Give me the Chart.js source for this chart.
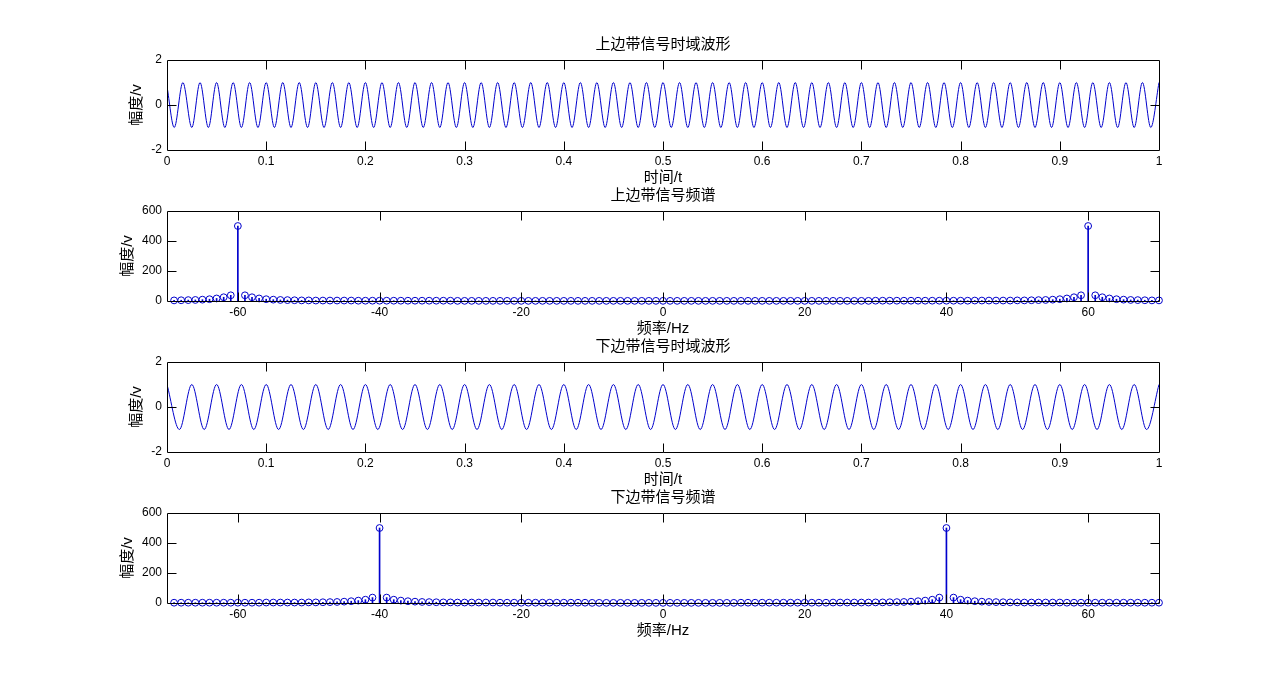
<!DOCTYPE html>
<html><head><meta charset="utf-8">
<script src="https://cdn.jsdelivr.net/npm/chart.js@4.4.1/dist/chart.umd.min.js"></script>
<style>
html,body{margin:0;padding:0;background:#fff;width:1281px;height:690px;overflow:hidden;}
canvas{position:absolute;left:0;}
</style></head><body>
<canvas id="c1" width="1281" height="160" style="top:30px"></canvas>
<canvas id="c2" width="1281" height="160" style="top:181px"></canvas>
<canvas id="c3" width="1281" height="160" style="top:332px"></canvas>
<canvas id="c4" width="1281" height="160" style="top:483px"></canvas>
<script>
// ---------- text ----------
const titles = ['上边带信号时域波形', '上边带信号频谱', '下边带信号时域波形', '下边带信号频谱'];
const xTitles = ['时间/t', '频率/Hz', '时间/t', '频率/Hz'];
const yTitle = '幅度/v';

// ---------- tick labels ----------
const timeTicks = [0, 0.1, 0.2, 0.3, 0.4, 0.5, 0.6, 0.7, 0.8, 0.9, 1];
const freqTicks = [-60, -40, -20, 0, 20, 40, 60];
const waveYTicks = [-2, 0, 2];
const specYTicks = [0, 200, 400, 600];

// ---------- upper sideband waveform (extrema) ----------
const usbTime = [
  0, 0.0073, 0.016, 0.025, 0.0333, 0.0417, 0.05, 0.0583, 0.0667, 0.075, 0.0833, 0.0917,
  0.1, 0.1083, 0.1167, 0.125, 0.1333, 0.1417, 0.15, 0.1583, 0.1667, 0.175, 0.1833, 0.1917,
  0.2, 0.2083, 0.2167, 0.225, 0.2333, 0.2417, 0.25, 0.2583, 0.2667, 0.275, 0.2833, 0.2917,
  0.3, 0.3083, 0.3167, 0.325, 0.3333, 0.3417, 0.35, 0.3583, 0.3667, 0.375, 0.3833, 0.3917,
  0.4, 0.4083, 0.4167, 0.425, 0.4333, 0.4417, 0.45, 0.4583, 0.4667, 0.475, 0.4833, 0.4917,
  0.5, 0.5083, 0.5167, 0.525, 0.5333, 0.5417, 0.55, 0.5583, 0.5667, 0.575, 0.5833, 0.5917,
  0.6, 0.6083, 0.6167, 0.625, 0.6333, 0.6417, 0.65, 0.6583, 0.6667, 0.675, 0.6833, 0.6917,
  0.7, 0.7083, 0.7167, 0.725, 0.7333, 0.7417, 0.75, 0.7583, 0.7667, 0.775, 0.7833, 0.7917,
  0.8, 0.8083, 0.8167, 0.825, 0.8333, 0.8417, 0.85, 0.8583, 0.8667, 0.875, 0.8833, 0.8917,
  0.9, 0.9083, 0.9167, 0.925, 0.9333, 0.9417, 0.95, 0.9583, 0.9667, 0.975, 0.9833, 0.9917,
  1
];
const usbWave = [
  0.83, -1, 1, -1, 1, -1, 1, -1, 1, -1, 1, -1,
  1, -1, 1, -1, 1, -1, 1, -1, 1, -1, 1, -1,
  1, -1, 1, -1, 1, -1, 1, -1, 1, -1, 1, -1,
  1, -1, 1, -1, 1, -1, 1, -1, 1, -1, 1, -1,
  1, -1, 1, -1, 1, -1, 1, -1, 1, -1, 1, -1,
  1, -1, 1, -1, 1, -1, 1, -1, 1, -1, 1, -1,
  1, -1, 1, -1, 1, -1, 1, -1, 1, -1, 1, -1,
  1, -1, 1, -1, 1, -1, 1, -1, 1, -1, 1, -1,
  1, -1, 1, -1, 1, -1, 1, -1, 1, -1, 1, -1,
  1, -1, 1, -1, 1, -1, 1, -1, 1, -1, 1, -1,
  1
];

// ---------- lower sideband waveform (extrema) ----------
const lsbTime = [
  0, 0.0125, 0.025, 0.0375, 0.05, 0.0625, 0.075, 0.0875,
  0.1, 0.1125, 0.125, 0.1375, 0.15, 0.1625, 0.175, 0.1875,
  0.2, 0.2125, 0.225, 0.2375, 0.25, 0.2625, 0.275, 0.2875,
  0.3, 0.3125, 0.325, 0.3375, 0.35, 0.3625, 0.375, 0.3875,
  0.4, 0.4125, 0.425, 0.4375, 0.45, 0.4625, 0.475, 0.4875,
  0.5, 0.5125, 0.525, 0.5375, 0.55, 0.5625, 0.575, 0.5875,
  0.6, 0.6125, 0.625, 0.6375, 0.65, 0.6625, 0.675, 0.6875,
  0.7, 0.7125, 0.725, 0.7375, 0.75, 0.7625, 0.775, 0.7875,
  0.8, 0.8125, 0.825, 0.8375, 0.85, 0.8625, 0.875, 0.8875,
  0.9, 0.9125, 0.925, 0.9375, 0.95, 0.9625, 0.975, 0.9875,
  1
];
const lsbWave = [
  1, -1, 1, -1, 1, -1, 1, -1,
  1, -1, 1, -1, 1, -1, 1, -1,
  1, -1, 1, -1, 1, -1, 1, -1,
  1, -1, 1, -1, 1, -1, 1, -1,
  1, -1, 1, -1, 1, -1, 1, -1,
  1, -1, 1, -1, 1, -1, 1, -1,
  1, -1, 1, -1, 1, -1, 1, -1,
  1, -1, 1, -1, 1, -1, 1, -1,
  1, -1, 1, -1, 1, -1, 1, -1,
  1, -1, 1, -1, 1, -1, 1, -1,
  1
];

// ---------- spectra ----------
const freq = [
  -69, -68, -67, -66, -65, -64, -63, -62, -61, -60,
  -59, -58, -57, -56, -55, -54, -53, -52, -51, -50,
  -49, -48, -47, -46, -45, -44, -43, -42, -41, -40,
  -39, -38, -37, -36, -35, -34, -33, -32, -31, -30,
  -29, -28, -27, -26, -25, -24, -23, -22, -21, -20,
  -19, -18, -17, -16, -15, -14, -13, -12, -11, -10,
  -9, -8, -7, -6, -5, -4, -3, -2, -1, 0,
  1, 2, 3, 4, 5, 6, 7, 8, 9, 10,
  11, 12, 13, 14, 15, 16, 17, 18, 19, 20,
  21, 22, 23, 24, 25, 26, 27, 28, 29, 30,
  31, 32, 33, 34, 35, 36, 37, 38, 39, 40,
  41, 42, 43, 44, 45, 46, 47, 48, 49, 50,
  51, 52, 53, 54, 55, 56, 57, 58, 59, 60,
  61, 62, 63, 64, 65, 66, 67, 68, 69, 70
];
const usbSpec = [
  4, 5, 6, 7, 9, 12, 17, 25, 38, 500,
  38, 25, 17, 12, 9, 7, 6, 5, 4, 4,
  3, 3, 3, 3, 3, 3, 2, 2, 2, 2,
  2, 2, 2, 2, 2, 2, 2, 2, 2, 2,
  1, 1, 1, 1, 1, 1, 1, 1, 1, 1,
  1, 1, 1, 1, 1, 1, 1, 1, 1, 1,
  1, 1, 1, 1, 1, 1, 1, 1, 1, 1,
  1, 1, 1, 1, 1, 1, 1, 1, 1, 1,
  1, 1, 1, 1, 1, 1, 1, 1, 1, 1,
  1, 1, 1, 1, 1, 1, 1, 1, 1, 2,
  2, 2, 2, 2, 2, 2, 2, 2, 2, 2,
  2, 2, 2, 3, 3, 3, 3, 3, 3, 4,
  4, 5, 6, 7, 9, 12, 17, 25, 38, 500,
  38, 25, 17, 12, 9, 7, 6, 5, 4, 4
];
const lsbSpec = [
  2, 2, 2, 2, 2, 2, 2, 2, 2, 2,
  2, 2, 2, 3, 3, 3, 3, 3, 3, 4,
  4, 5, 6, 7, 9, 12, 16, 22, 36, 500,
  36, 22, 16, 12, 9, 7, 6, 5, 4, 4,
  3, 3, 3, 3, 3, 3, 2, 2, 2, 2,
  2, 2, 2, 2, 2, 2, 2, 2, 2, 1,
  1, 1, 1, 1, 1, 1, 1, 1, 1, 1,
  1, 1, 1, 1, 1, 1, 1, 1, 1, 1,
  2, 2, 2, 2, 2, 2, 2, 2, 2, 2,
  2, 2, 2, 3, 3, 3, 3, 3, 3, 4,
  4, 5, 6, 7, 9, 12, 16, 22, 36, 500,
  36, 22, 16, 12, 9, 7, 6, 5, 4, 4,
  3, 3, 3, 3, 3, 3, 2, 2, 2, 2,
  2, 2, 2, 2, 2, 2, 2, 2, 2, 2
];

// ---------- styling ----------
const BLUE = '#0000cc';
const FONT = "'Liberation Sans', 'Noto Sans CJK SC', sans-serif";

const axesBox = {
  id: 'axesBox',
  afterDraw(chart) {
    const { ctx, chartArea: a, scales: { x, y } } = chart;
    const L = Math.round(a.left) + 0.5, R = Math.round(a.right) + 0.5;
    const T = Math.round(a.top) + 0.5, B = Math.round(a.bottom) + 0.5;
    const len = 9;
    ctx.save();
    ctx.strokeStyle = '#000';
    ctx.lineWidth = 1;
    ctx.beginPath();
    ctx.rect(L, T, R - L, B - T);
    x.ticks.forEach(t => {
      if (t.value <= x.min || t.value >= x.max) return;
      const px = Math.round(x.getPixelForValue(t.value)) + 0.5;
      ctx.moveTo(px, B); ctx.lineTo(px, B - len);
      ctx.moveTo(px, T); ctx.lineTo(px, T + len);
    });
    y.ticks.forEach(t => {
      if (t.value <= y.min || t.value >= y.max) return;
      const py = Math.round(y.getPixelForValue(t.value)) + 0.5;
      ctx.moveTo(L, py); ctx.lineTo(L + len, py);
      ctx.moveTo(R, py); ctx.lineTo(R - len, py);
    });
    ctx.stroke();
    ctx.restore();
  }
};

function makeOptions(title, xTitle, xMin, xMax, xTicks, yMin, yMax, yTicks, yTitlePad) {
  const tickFont = { family: FONT, size: 12 };
  const labFont = { family: FONT, size: 15 };
  return {
    responsive: false,
    animation: false,
    events: [],
    layout: { padding: { left: 0, right: 122, top: 0, bottom: 0 } },
    plugins: {
      legend: { display: false },
      tooltip: { enabled: false },
      title: {
        display: true, text: title, fullSize: false, color: '#000',
        font: { family: FONT, size: 15, weight: 'normal' },
        padding: { top: 6, bottom: 6 }
      }
    },
    scales: {
      x: {
        type: 'linear', min: xMin, max: xMax, offset: false,
        afterBuildTicks: s => { s.ticks = xTicks.map(v => ({ value: v })); },
        afterFit: s => { s.height = 40; },
        grid: { display: false, drawTicks: false },
        border: { display: false },
        ticks: { padding: 4, color: '#000', font: tickFont, maxRotation: 0, autoSkip: false, callback: v => String(v) },
        title: { display: true, text: xTitle, color: '#000', font: labFont, padding: { top: 0, bottom: 3.5 } }
      },
      y: {
        type: 'linear', min: yMin, max: yMax,
        afterBuildTicks: s => { s.ticks = yTicks.map(v => ({ value: v })); },
        afterFit: s => { s.width = 167; },
        grid: { display: false, drawTicks: false },
        border: { display: false },
        ticks: { padding: 5, color: '#000', font: tickFont, callback: v => String(v) },
        title: { display: true, text: yTitle, color: '#000', font: labFont, padding: { top: yTitlePad, bottom: 0 } }
      }
    }
  };
}

function waveChart(id, idx, tArr, vArr) {
  new Chart(document.getElementById(id), {
    type: 'line',
    data: {
      datasets: [{
        data: tArr.map((t, i) => ({ x: t, y: vArr[i] })),
        borderColor: BLUE, borderWidth: 1, pointRadius: 0,
        cubicInterpolationMode: 'monotone', fill: false
      }]
    },
    options: makeOptions(titles[idx], xTitles[idx], 0, 1, timeTicks, -2, 2, waveYTicks, 127.5),
    plugins: [axesBox]
  });
}

function stemChart(id, idx, fArr, mArr) {
  const pts = fArr.map((f, i) => ({ x: f, y: mArr[i] }));
  new Chart(document.getElementById(id), {
    type: 'bar',
    data: {
      datasets: [
        { type: 'bar', data: pts, backgroundColor: BLUE, barThickness: 1, borderWidth: 0, grouped: false },
        { type: 'scatter', data: pts, showLine: false, pointRadius: 3.4, pointBorderWidth: 1,
          pointBorderColor: BLUE, pointBackgroundColor: 'rgba(0,0,0,0)', clip: false }
      ]
    },
    options: makeOptions(titles[idx], xTitles[idx], -70, 70, freqTicks, 0, 600, specYTicks, 118.5),
    plugins: [axesBox]
  });
}

waveChart('c1', 0, usbTime, usbWave);
stemChart('c2', 1, freq, usbSpec);
waveChart('c3', 2, lsbTime, lsbWave);
stemChart('c4', 3, freq, lsbSpec);
</script>
</body></html>
